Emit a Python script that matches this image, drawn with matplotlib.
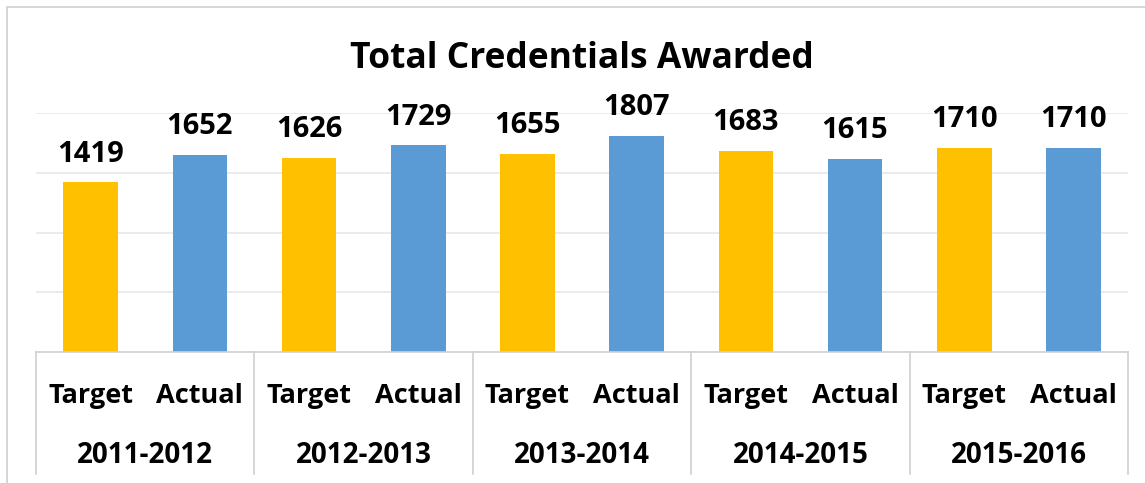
"""
Total credentials awarded: target vs actual by academic year.
"""

import matplotlib.pyplot as plt
from matplotlib.patches import Rectangle

years = ["2011-2012", "2012-2013", "2013-2014", "2014-2015", "2015-2016"]
series_names = ["Target", "Actual"]
target = [1419, 1626, 1655, 1683, 1710]
actual = [1652, 1729, 1807, 1615, 1710]

GOLD = "#FFC000"
BLUE = "#5B9BD5"
GRID = "#E8E8E8"
AXIS = "#D0D0D0"
FONT = "Open Sans"


def main() -> None:
    W, H = 1145, 483
    fig = plt.figure(figsize=(W / 100, H / 100), dpi=100)

    # outer chart frame (only top and left edges visible in the crop)
    fig.patches.append(Rectangle((7 / W, -0.5), 2.0, 1 - 7 / H + 0.5,
                                 transform=fig.transFigure, fill=False,
                                 edgecolor=AXIS, linewidth=1.2))

    left, right = 36 / W, 1128 / W
    bottom, top = 1 - 352 / H, 1 - 113 / H
    ax = fig.add_axes([left, bottom, right - left, top - bottom])

    # interleave target/actual into one row of bars
    values, colors, labels = [], [], []
    for t, a in zip(target, actual):
        values += [t, a]
        colors += [GOLD, BLUE]
        labels += series_names
    xs = list(range(len(values)))

    ax.bar(xs, values, width=0.5, color=colors, zorder=2)
    for x, v in zip(xs, values):
        ax.annotate(str(v), (x, v), xytext=(0, 15), textcoords="offset points",
                    ha="center", va="baseline", fontsize=21, fontweight="bold",
                    family=FONT)

    ax.set_xlim(-0.5, len(values) - 0.5)
    ax.set_ylim(0, 2000)
    ax.set_yticks([500, 1000, 1500, 2000])
    ax.yaxis.grid(True, color=GRID, linewidth=1.2, zorder=0)
    ax.set_axisbelow(True)
    ax.tick_params(left=False, labelleft=False, bottom=False, labelbottom=False)
    for side in ["top", "right", "left"]:
        ax.spines[side].set_visible(False)
    ax.spines["bottom"].set_color(AXIS)
    ax.spines["bottom"].set_linewidth(1.2)

    # two-level category axis
    xt = ax.get_xaxis_transform()
    for x, lab in zip(xs, labels):
        ax.text(x, -0.213, lab, transform=xt, ha="center", va="baseline",
                fontsize=19.5, fontweight="bold", family=FONT)
    for i, yr in enumerate(years):
        ax.text(2 * i + 0.5, -0.464, yr, transform=xt, ha="center",
                va="baseline", fontsize=20, fontweight="bold", family=FONT)
    for i in range(len(years) + 1):
        ax.plot([2 * i - 0.5] * 2, [0, -0.51], transform=xt, color=AXIS,
                linewidth=1.2, clip_on=False)

    fig.text((left + right) / 2, 1 - 68 / H, "Total Credentials Awarded",
             ha="center", va="baseline", fontsize=25.5, fontweight="bold",
             family=FONT)

    fig.savefig("out.png", dpi=100)
    plt.close(fig)


if __name__ == "__main__":
    main()
